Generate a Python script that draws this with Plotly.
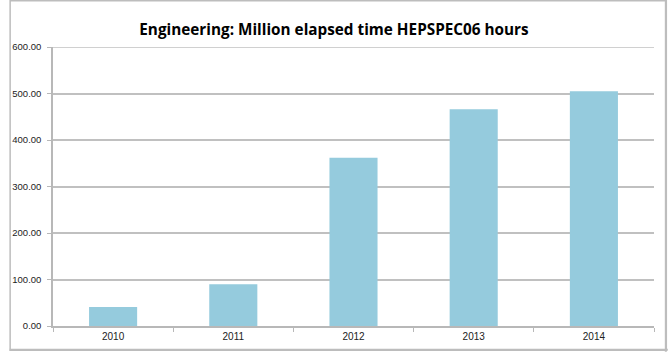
import plotly.graph_objects as go

years = ["2010", "2011", "2012", "2013", "2014"]
hours = [41.0, 90.0, 362.0, 466.0, 505.0]

fig = go.Figure()
fig.add_trace(go.Bar(
    x=years, y=hours,
    marker=dict(color="#95CBDD", line=dict(width=0)),
    width=0.4,
))

W, H = 668, 354
ml, mr, mt, mb = 44, 14, 47, 26
pw, ph = W - ml - mr, H - mt - mb

def px(x):
    return (x - ml) / pw

def py(y):
    return (H - mb - y) / ph

fig.update_layout(
    width=W, height=H,
    margin=dict(l=ml, r=mr, t=mt, b=mb),
    paper_bgcolor="white", plot_bgcolor="white",
    showlegend=False,
    title=dict(
        text="<b>Engineering: Million elapsed time HEPSPEC06 hours</b>",
        x=0.5, xref="container", xanchor="center",
        y=1 - 30 / H, yanchor="middle",
        font=dict(family="Open Sans, Liberation Sans, sans-serif", size=15.3, color="#000000"),
    ),
    xaxis=dict(
        type="category",
        showline=True, linecolor="#B8B8B8", linewidth=1.5,
        ticks="outside", tickson="boundaries", ticklen=4, tickcolor="#B8B8B8",
        tickfont=dict(family="Liberation Sans, sans-serif", size=10, color="#222222"),
        showgrid=False,
    ),
    yaxis=dict(
        range=[0, 600], dtick=100, tickformat=".2f",
        showline=True, linecolor="#B8B8B8", linewidth=1.5,
        ticks="outside", ticklen=4, tickcolor="#B8B8B8",
        ticklabelstandoff=4,
        showgrid=True, gridcolor="#C0C0C0", gridwidth=1.5,
        tickfont=dict(family="Liberation Sans, sans-serif", size=9.5, color="#222222"),
        zeroline=False,
    ),
    shapes=[
        dict(type="rect", xref="paper", yref="paper",
             x0=px(0.5), x1=px(W - 1.5), y0=py(H - 1.5), y1=py(0.5),
             line=dict(color="#BDBDBD", width=1.5), fillcolor="rgba(0,0,0,0)", layer="above"),
        dict(type="line", xref="paper", yref="paper",
             x0=px(W - 2), x1=px(W - 2), y0=py(H), y1=py(0),
             line=dict(color="#BDBDBD", width=2)),
        dict(type="line", xref="paper", yref="paper",
             x0=px(0), x1=px(W), y0=py(H - 2), y1=py(H - 2),
             line=dict(color="#BDBDBD", width=2)),
        dict(type="line", xref="paper", yref="y",
             x0=0, x1=1, y0=600, y1=600,
             line=dict(color="#C0C0C0", width=1.5), layer="below"),
    ],
)

fig.write_html("out.html")
